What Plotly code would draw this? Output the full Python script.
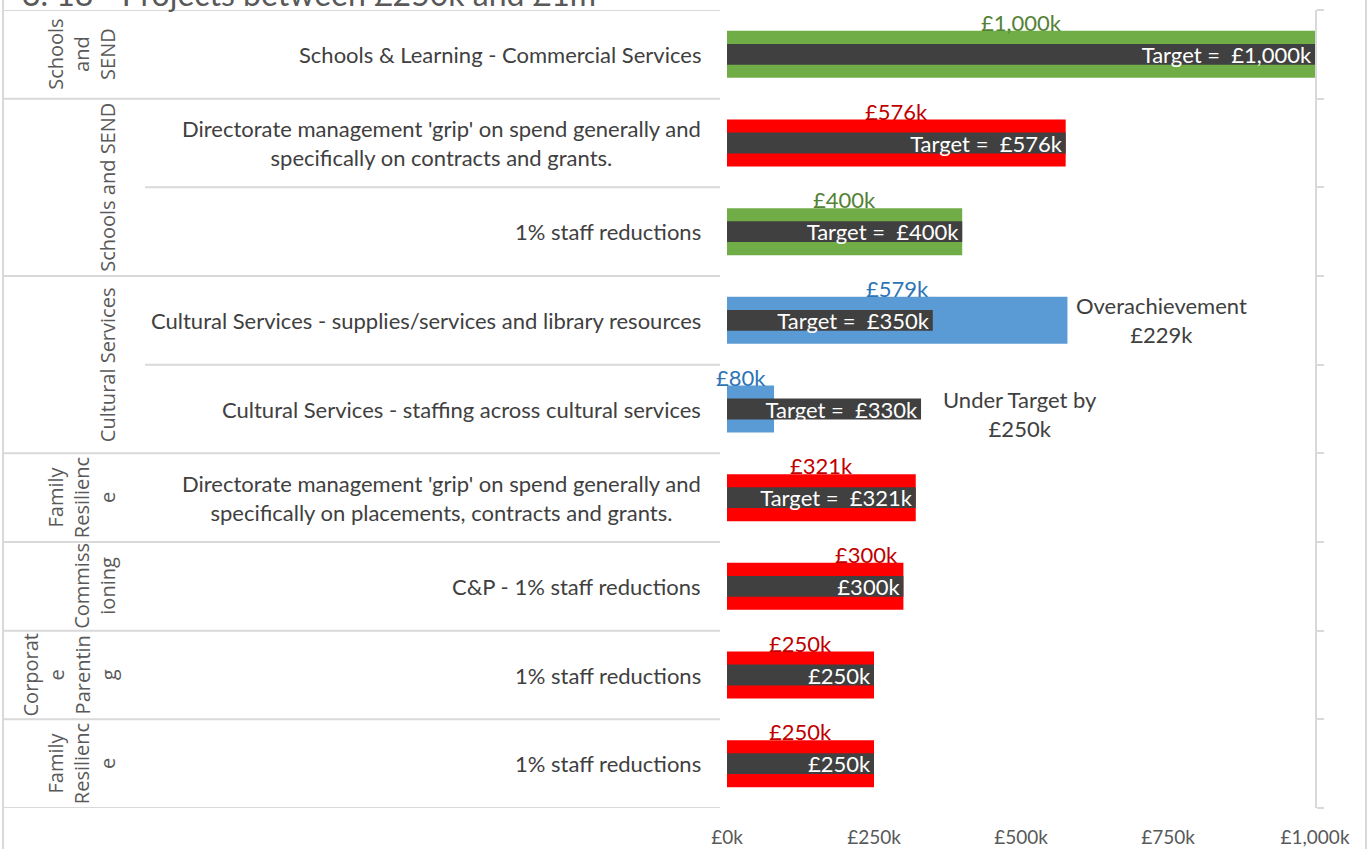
import plotly.graph_objects as go

# ---- data (top row first) ----
group_labels = ["Schools<br>and<br>SEND", "Schools and SEND", "Cultural Services",
                "Family<br>Resilienc<br>e", "Commiss<br>ioning",
                "Corporat<br>e<br>Parentin<br>g", "Family<br>Resilienc<br>e"]
group_sizes = [1, 2, 2, 1, 1, 1, 1]

projects = [
    "Schools & Learning - Commercial Services",
    "Directorate management 'grip' on spend generally and<br>specifically on contracts and grants.",
    "1% staff reductions",
    "Cultural Services - supplies/services and library resources",
    "Cultural Services - staffing across cultural services",
    "Directorate management 'grip' on spend generally and<br>specifically on placements, contracts and grants.",
    "C&P - 1% staff reductions",
    "1% staff reductions",
    "1% staff reductions",
]
actual = [1000, 576, 400, 579, 80, 321, 300, 250, 250]
target = [1000, 576, 400, 350, 330, 321, 300, 250, 250]
status = ["achieved", "at_risk", "achieved", "variance", "variance",
          "at_risk", "at_risk", "at_risk", "at_risk"]
target_text = ["Target =  £1,000k", "Target =  £576k", "Target =  £400k",
               "Target =  £350k", "Target =  £330k", "Target =  £321k",
               "£300k", "£250k", "£250k"]

x_ticks = [0, 250, 500, 750, 1000]
x_tick_labels = ["£0k", "£250k", "£500k", "£750k", "£1,000k"]

title = "3. 18 - Projects between £250k and £1m"

# ---- styling ----
W, H = 1369, 849
ML, MR, MT, MB = 727, 54, 10, 41
PW = W - ML - MR
PH = H - MT - MB

BAR = {"achieved": "#70AD47", "at_risk": "#FF0000", "variance": "#5B9BD5"}
LBL = {"achieved": "#548235", "at_risk": "#C00000", "variance": "#2E75B6"}
DARK = "#404040"
GRID = "#D9D9D9"
TXT = "#404040"
FONT = "Lato"
FS = 22


def px_x(p):
    # pixel column -> paper x
    return (p - ML) / PW


def px_y(p):
    # pixel row -> paper y
    return (H - MB - p) / PH


rows = list(range(len(projects)))

fig = go.Figure()

fig.add_trace(go.Bar(
    y=rows, x=actual, orientation="h", width=0.53,
    marker=dict(color=[BAR[s] for s in status], line=dict(width=0)),
    hoverinfo="x", showlegend=False,
))

fig.add_trace(go.Bar(
    y=rows, x=target, orientation="h", width=0.235,
    marker=dict(color=DARK, line=dict(width=0)),
    text=target_text, textposition="inside", insidetextanchor="end",
    constraintext="none",
    textfont=dict(family=FONT, size=FS, color="white"),
    hoverinfo="x", showlegend=False,
))

annotations = []
shapes = []

# value labels above the bars
nudge = {4: -10, 6: 51}
for i, v in enumerate(actual):
    annotations.append(dict(
        x=v / 2, y=i, xref="x", yref="y", text=f"£{v:,}k", showarrow=False,
        yshift=32, xshift=nudge.get(i, 0),
        font=dict(family=FONT, size=FS, color=LBL[status[i]]),
    ))

# over / under target notes
for i, (a, t) in enumerate(zip(actual, target)):
    if a > t:
        note, dx, dy = f"Overachievement<br>£{a - t:,}k", 7, 0
    elif a < t:
        note, dx, dy = f"Under Target by<br>£{t - a:,}k", 20, -5
    else:
        continue
    annotations.append(dict(
        x=max(a, t), y=i, xref="x", yref="y", text=note, showarrow=False,
        xanchor="left", xshift=dx, yshift=dy, align="center",
        font=dict(family=FONT, size=FS, color=TXT),
    ))

# project labels
for i, p in enumerate(projects):
    annotations.append(dict(
        x=px_x(703), y=i, xref="paper", yref="y", text=p, showarrow=False,
        xanchor="right", align="center",
        font=dict(family=FONT, size=FS, color=TXT),
    ))

# group labels + table lines
start = 0
shapes.append(dict(type="line", xref="paper", yref="y", x0=px_x(3), x1=px_x(720),
                   y0=-0.5, y1=-0.5, line=dict(color=GRID, width=2)))
for g, n in zip(group_labels, group_sizes):
    annotations.append(dict(
        x=px_x(123), y=start + (n - 1) / 2, xref="paper", yref="y", text=g,
        showarrow=False, textangle=-90, xanchor="right", align="center",
        font=dict(family="Open Sans", size=20, color="#595959"),
    ))
    for k in range(1, n):
        shapes.append(dict(type="line", xref="paper", yref="y", x0=px_x(145), x1=px_x(720),
                           y0=start + k - 0.5, y1=start + k - 0.5,
                           line=dict(color=GRID, width=2)))
    start += n
    shapes.append(dict(type="line", xref="paper", yref="y", x0=px_x(3), x1=px_x(720),
                       y0=start - 0.5, y1=start - 0.5, line=dict(color=GRID, width=2)))

# outer frame
for xp in (3, 1366):
    shapes.append(dict(type="line", xref="paper", yref="paper", x0=px_x(xp), x1=px_x(xp),
                       y0=px_y(H + 5), y1=px_y(-5), line=dict(color=GRID, width=2)))

# title (mostly cut off at the top edge, as in the source)
annotations.append(dict(
    x=px_x(20), y=px_y(-7), xref="paper", yref="paper", text=title,
    showarrow=False, xanchor="left", yanchor="middle",
    font=dict(family=FONT, size=32, color="#595959"),
))

fig.update_layout(
    width=W, height=H,
    margin=dict(l=ML, r=MR, t=MT, b=MB, pad=0),
    barmode="overlay",
    plot_bgcolor="white", paper_bgcolor="white",
    font=dict(family=FONT, color=TXT),
    xaxis=dict(
        range=[0, 1000], tickvals=x_ticks, ticktext=x_tick_labels,
        showgrid=False, zeroline=False, showline=False, ticks="",
        ticklabelstandoff=16, automargin=False,
        tickfont=dict(family=FONT, size=19, color="#595959"),
    ),
    yaxis=dict(
        range=[len(rows) - 0.5, -0.5], side="right",
        tickvals=[r - 0.5 for r in range(len(rows) + 1)],
        showticklabels=False, ticks="outside", ticklen=7, tickwidth=2, tickcolor=GRID,
        showline=True, linecolor=GRID, linewidth=2,
        showgrid=False, zeroline=False, automargin=False,
    ),
    annotations=annotations,
    shapes=shapes,
)

fig.write_html("out.html", config={"displayModeBar": False},
               post_script="document.body.style.margin='0';")
